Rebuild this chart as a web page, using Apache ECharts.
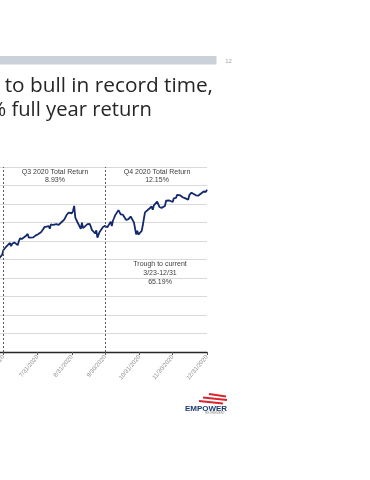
<!DOCTYPE html>
<html>
<head>
<meta charset="utf-8">
<script src="https://cdn.jsdelivr.net/npm/echarts@6/dist/echarts.min.js"></script>
<style>
html,body{margin:0;padding:0;background:#fff;}
#c{width:370px;height:480px;}
</style>
</head>
<body>
<div id="c"></div>
<script>
// S&P 500 daily closes (2020)
const dates = [
'2020-06-26','2020-06-29','2020-06-30',
'2020-07-01','2020-07-02','2020-07-06','2020-07-07','2020-07-08','2020-07-09','2020-07-10','2020-07-13','2020-07-14','2020-07-15','2020-07-16','2020-07-17','2020-07-20','2020-07-21','2020-07-22','2020-07-23','2020-07-24','2020-07-27','2020-07-28','2020-07-29','2020-07-30','2020-07-31',
'2020-08-03','2020-08-04','2020-08-05','2020-08-06','2020-08-07','2020-08-10','2020-08-11','2020-08-12','2020-08-13','2020-08-14','2020-08-17','2020-08-18','2020-08-19','2020-08-20','2020-08-21','2020-08-24','2020-08-25','2020-08-26','2020-08-27','2020-08-28','2020-08-31',
'2020-09-01','2020-09-02','2020-09-03','2020-09-04','2020-09-08','2020-09-09','2020-09-10','2020-09-11','2020-09-14','2020-09-15','2020-09-16','2020-09-17','2020-09-18','2020-09-21','2020-09-22','2020-09-23','2020-09-24','2020-09-25','2020-09-28','2020-09-29','2020-09-30',
'2020-10-01','2020-10-02','2020-10-05','2020-10-06','2020-10-07','2020-10-08','2020-10-09','2020-10-12','2020-10-13','2020-10-14','2020-10-15','2020-10-16','2020-10-19','2020-10-20','2020-10-21','2020-10-22','2020-10-23','2020-10-26','2020-10-27','2020-10-28','2020-10-29','2020-10-30',
'2020-11-02','2020-11-03','2020-11-04','2020-11-05','2020-11-06','2020-11-09','2020-11-10','2020-11-11','2020-11-12','2020-11-13','2020-11-16','2020-11-17','2020-11-18','2020-11-19','2020-11-20','2020-11-23','2020-11-24','2020-11-25','2020-11-27','2020-11-30',
'2020-12-01','2020-12-02','2020-12-03','2020-12-04','2020-12-07','2020-12-08','2020-12-09','2020-12-10','2020-12-11','2020-12-14','2020-12-15','2020-12-16','2020-12-17','2020-12-18','2020-12-21','2020-12-22','2020-12-23','2020-12-24','2020-12-28','2020-12-29','2020-12-30','2020-12-31'
];
const sp500 = [
3009,3053,3100,
3116,3130,3179,3145,3169,3152,3185,3155,3197,3227,3215,3224,3251,3257,3276,3236,3215,3239,3218,3258,3246,3271,
3295,3306,3327,3349,3351,3360,3333,3380,3373,3373,3382,3389,3375,3385,3397,3431,3443,3478,3484,3508,3500,
3527,3580,3455,3427,3331,3399,3339,3341,3383,3401,3385,3357,3320,3281,3315,3237,3247,3298,3351,3335,3363,
3381,3348,3409,3361,3419,3446,3477,3534,3512,3489,3483,3484,3427,3443,3436,3453,3465,3401,3391,3271,3310,3270,
3310,3370,3443,3510,3509,3551,3545,3573,3537,3585,3627,3610,3568,3582,3558,3578,3635,3630,3638,3622,
3662,3669,3666,3699,3692,3702,3673,3668,3663,3647,3695,3702,3722,3709,3694,3687,3690,3703,3735,3727,3732,3756
];
const xTickDates = ['2020-06-30','2020-07-31','2020-08-31','2020-09-30','2020-10-31','2020-11-30','2020-12-31'];
const xTickLabels = ['6/30/2020','7/31/2020','8/31/2020','9/30/2020','10/31/2020','11/30/2020','12/31/2020'];
const quarterStarts = ['2020-06-30','2020-09-30'];
const xRange = ['2020-06-27','2020-12-31'];
const yMin = 2000, yMax = 4000, yStep = 200;
const titleLines = ['From bear to bull in record time,', '18.4% full year return'];
const q3Text = ['Q3 2020 Total Return', '8.93%'];
const q4Text = ['Q4 2020 Total Return', '12.15%'];
const troughText = ['Trough to current', '3/23-12/31', '65.19%'];

function ts(s){ const p = s.split('-').map(Number); return Date.UTC(p[0], p[1]-1, p[2]); }
const seriesData = dates.map((d,i)=>[ts(d), sp500[i]]);
const tickVals = xTickDates.map(ts);

const chart = echarts.init(document.getElementById('c'), null, {renderer:'canvas'});
function annText(x, y, txt){
  return {type:'text', x:x, y:y, style:{text:txt, fill:'#404040', font:'7px "Liberation Sans"', align:'center', verticalAlign:'middle'}};
}
chart.setOption({
  animation:false,
  grid:{left:0, right:163, top:167, bottom:128, containLabel:false, outerBoundsMode:'none'},
  xAxis:{
    type:'value', min:ts(xRange[0]), max:ts(xRange[1]),
    splitLine:{show:false},
    axisLine:{show:true, lineStyle:{color:'#262626', width:1.3}},
    axisTick:{show:true, customValues:tickVals, length:3, lineStyle:{color:'#595959'}},
    axisLabel:{show:true, customValues:tickVals, rotate:50, margin:4, fontSize:6, color:'#8c8c8c', fontFamily:'Liberation Sans',
      hideOverlap:false,
      formatter:function(v){ const i = tickVals.indexOf(v); return i>=0 ? xTickLabels[i] : ''; }}
  },
  yAxis:{
    type:'value', min:yMin, max:yMax, interval:yStep,
    axisLabel:{show:false}, axisLine:{show:false}, axisTick:{show:false},
    splitLine:{show:true, lineStyle:{color:'#d9d9d9', width:1}}
  },
  series:[{
    type:'line', data:seriesData, showSymbol:false, symbol:'none',
    lineStyle:{color:'#13296b', width:1.8},
    markLine:{
      silent:true, symbol:['none','none'], label:{show:false},
      lineStyle:{color:'#595959', type:[2,2], width:1},
      data: quarterStarts.map(d=>({xAxis:ts(d)}))
    }
  }],
  graphic:[
    {type:'rect', shape:{x:0, y:56, width:216.5, height:8.5}, style:{fill:'#cbd1d8'}},
    {type:'text', x:228.5, y:61, style:{text:'12', fill:'#a6a6a6', font:'6px "Liberation Sans"', align:'center', verticalAlign:'middle'}},
    {type:'text', x:213, y:86, style:{text:titleLines[0], fill:'#262626', font:'20.8px "Open Sans"', align:'right', verticalAlign:'middle'}},
    {type:'text', x:152, y:110, style:{text:titleLines[1], fill:'#262626', font:'20.2px "Open Sans"', align:'right', verticalAlign:'middle'}},
    annText(55, 172, q3Text[0]), annText(55, 180.5, q3Text[1]),
    annText(157, 172, q4Text[0]), annText(157, 180.5, q4Text[1]),
    annText(160, 264.5, troughText[0]), annText(160, 273.5, troughText[1]), annText(160, 282.5, troughText[2]),
    {type:'line', shape:{x1:209, y1:394, x2:226, y2:396.5}, style:{stroke:'#d9252f', lineWidth:1.8}},
    {type:'line', shape:{x1:203, y1:397.5, x2:227, y2:400}, style:{stroke:'#d9252f', lineWidth:1.8}},
    {type:'line', shape:{x1:199, y1:401, x2:223, y2:403.5}, style:{stroke:'#d9252f', lineWidth:1.8}},
    {type:'text', x:206, y:408.5, style:{text:'EMPOWER', fill:'#1d3b72', font:'bold 8px "Liberation Sans"', align:'center', verticalAlign:'middle'}},
    {type:'text', x:215, y:413.5, style:{text:'RETIREMENT', fill:'#8c8c8c', font:'3px "Liberation Sans"', align:'center', verticalAlign:'middle'}}
  ]
});
</script>
</body>
</html>
